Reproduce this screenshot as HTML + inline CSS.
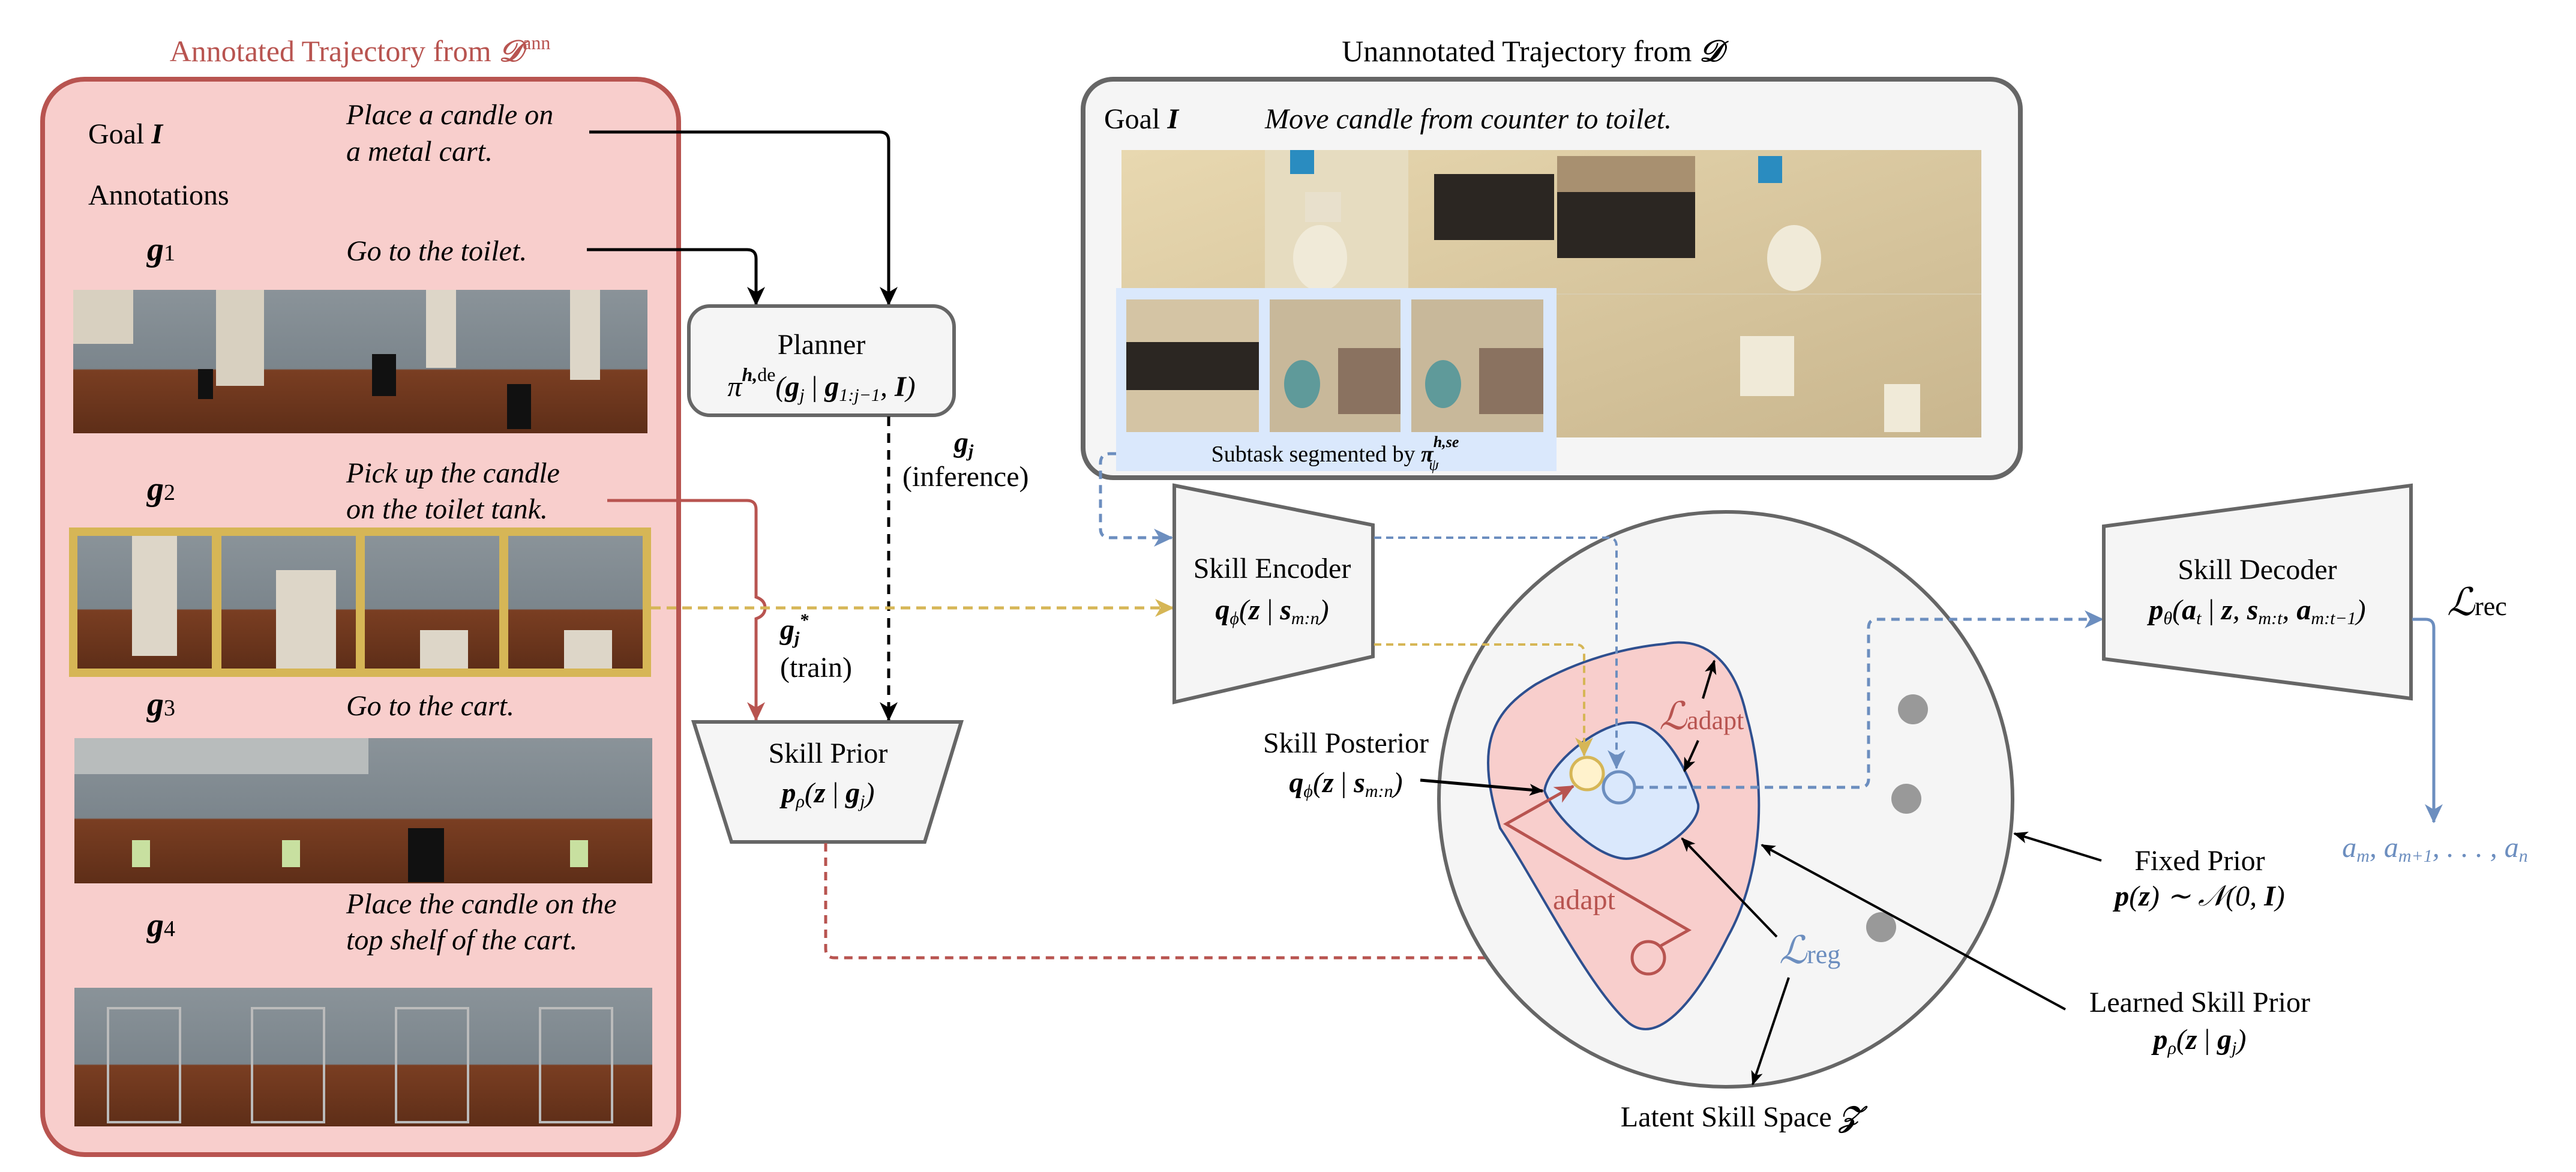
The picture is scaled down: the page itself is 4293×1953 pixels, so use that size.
<!DOCTYPE html>
<html><head><meta charset="utf-8"><style>
html,body{margin:0;padding:0;background:#fff}
svg{display:block;font-family:"Liberation Serif",serif}
svg text, svg tspan{font-family:"Liberation Serif",serif}
text{font-size:48px;fill:#000}
.i{font-style:italic}
.b{font-weight:bold;font-style:italic}
</style></head><body>
<svg width="4293" height="1953" viewBox="0 0 4293 1953" xmlns="http://www.w3.org/2000/svg" font-family="Liberation Serif, serif">
<defs>
<marker id="akb" markerWidth="34" markerHeight="34" refX="30" refY="17" orient="auto" markerUnits="userSpaceOnUse"><path d="M0,2 L32,17 L0,32 L9,17 z" fill="#000"/></marker>
<marker id="ar" markerWidth="34" markerHeight="34" refX="30" refY="17" orient="auto" markerUnits="userSpaceOnUse"><path d="M0,2 L32,17 L0,32 L9,17 z" fill="#b85450"/></marker>
<marker id="ay" markerWidth="34" markerHeight="34" refX="30" refY="17" orient="auto" markerUnits="userSpaceOnUse"><path d="M0,2 L32,17 L0,32 L9,17 z" fill="#d6b656"/></marker>
<marker id="ab" markerWidth="34" markerHeight="34" refX="30" refY="17" orient="auto" markerUnits="userSpaceOnUse"><path d="M0,2 L32,17 L0,32 L9,17 z" fill="#6c8ebf"/></marker>
<marker id="as" markerWidth="24" markerHeight="24" refX="22" refY="12" orient="auto" markerUnits="userSpaceOnUse"><path d="M0,2 L24,12 L0,22 L6,12 z" fill="#000"/></marker>
<linearGradient id="tile" x1="0" y1="0" x2="0" y2="1"><stop offset="0" stop-color="#8a9399"/><stop offset="0.55" stop-color="#7b858c"/><stop offset="0.56" stop-color="#7a3e22"/><stop offset="1" stop-color="#5e2e18"/></linearGradient>
<linearGradient id="beige" x1="0" y1="0" x2="1" y2="1"><stop offset="0" stop-color="#e8d8b0"/><stop offset="1" stop-color="#c9b68e"/></linearGradient>
</defs>

<!-- Left panel -->
<text x="600" y="102" text-anchor="middle" style="fill:#b85450;font-size:50px">Annotated Trajectory from <tspan class="b">𝒟</tspan><tspan font-size="32" dy="-20">ann</tspan></text>
<rect x="71" y="132" width="1060" height="1792" rx="70" fill="#f8cecc" stroke="#b85450" stroke-width="8"/>
<text x="147" y="239">Goal <tspan class="b">I</tspan></text>
<text x="577" y="207" class="i">Place a candle on</text>
<text x="577" y="268" class="i">a metal cart.</text>
<text x="147" y="341">Annotations</text>
<text x="245" y="434" class="b" style="font-size:56px">g<tspan font-size="38" font-weight="normal" font-style="normal">1</tspan></text>
<text x="577" y="434" class="i">Go to the toilet.</text>
<rect x="122" y="483" width="957" height="239" fill="url(#tile)"/>
<rect x="122" y="483" width="100" height="90" fill="#d8d0c0"/><rect x="360" y="483" width="80" height="160" fill="#d8d0c0"/>
<rect x="710" y="483" width="50" height="130" fill="#ddd6c8"/><rect x="950" y="483" width="50" height="150" fill="#ddd6c8"/>
<rect x="620" y="590" width="40" height="70" fill="#111"/><rect x="845" y="640" width="40" height="75" fill="#111"/><rect x="330" y="615" width="25" height="50" fill="#111"/>

<text x="245" y="833" class="b" style="font-size:56px">g<tspan font-size="38" font-weight="normal" font-style="normal">2</tspan></text>
<text x="577" y="804" class="i">Pick up the candle</text>
<text x="577" y="864" class="i">on the toilet tank.</text>
<rect x="115" y="879" width="970" height="249" fill="#d6b656"/>
<rect x="129" y="893" width="224" height="221" fill="url(#tile)"/><rect x="369" y="893" width="224" height="221" fill="url(#tile)"/><rect x="608" y="893" width="224" height="221" fill="url(#tile)"/><rect x="847" y="893" width="224" height="221" fill="url(#tile)"/>
<rect x="220" y="893" width="75" height="200" fill="#ddd6c8"/><rect x="460" y="950" width="100" height="164" fill="#ddd6c8"/><rect x="700" y="1050" width="80" height="64" fill="#ddd6c8"/><rect x="940" y="1050" width="80" height="64" fill="#ddd6c8"/>

<text x="245" y="1192" class="b" style="font-size:56px">g<tspan font-size="38" font-weight="normal" font-style="normal">3</tspan></text>
<text x="577" y="1192" class="i">Go to the cart.</text>
<rect x="124" y="1230" width="963" height="242" fill="url(#tile)"/>
<rect x="124" y="1230" width="490" height="60" fill="#b8bcbc"/><rect x="680" y="1380" width="60" height="90" fill="#111"/>
<rect x="220" y="1400" width="30" height="45" fill="#c8e0a0"/><rect x="470" y="1400" width="30" height="45" fill="#c8e0a0"/><rect x="950" y="1400" width="30" height="45" fill="#c8e0a0"/>

<text x="245" y="1560" class="b" style="font-size:56px">g<tspan font-size="38" font-weight="normal" font-style="normal">4</tspan></text>
<text x="577" y="1522" class="i">Place the candle on the</text>
<text x="577" y="1582" class="i">top shelf of the cart.</text>
<rect x="124" y="1646" width="963" height="231" fill="url(#tile)"/>
<g stroke="#bbb" stroke-width="4" fill="none"><rect x="180" y="1680" width="120" height="190"/><rect x="420" y="1680" width="120" height="190"/><rect x="660" y="1680" width="120" height="190"/><rect x="900" y="1680" width="120" height="190"/></g>

<path d="M982,220 H1466 Q1481,220 1481,235 V508" fill="none" stroke="#000" stroke-width="5" marker-end="url(#akb)"/>
<path d="M978,416 H1245 Q1260,416 1260,431 V508" fill="none" stroke="#000" stroke-width="5" marker-end="url(#akb)"/>

<!-- Planner -->
<rect x="1148" y="510" width="442" height="182" rx="35" fill="#f5f5f5" stroke="#666" stroke-width="6"/>
<text x="1369" y="590" text-anchor="middle">Planner</text>
<text x="1369" y="660" text-anchor="middle" class="i">π<tspan font-size="32" dy="-25" font-weight="bold">h,</tspan><tspan font-size="32" font-style="normal">de</tspan><tspan dy="25">(</tspan><tspan font-weight="bold">g</tspan><tspan font-size="30" dy="8">j</tspan><tspan dy="-8" font-style="normal"> | </tspan><tspan font-weight="bold">g</tspan><tspan font-size="30" dy="8">1:j−1</tspan><tspan dy="-8">, </tspan><tspan font-weight="bold">I</tspan>)</text>
<path d="M1481,694 V1200" fill="none" stroke="#000" stroke-width="5" stroke-dasharray="16,12" marker-end="url(#akb)"/>
<text x="1590" y="753" class="b">g<tspan font-size="30" dy="8">j</tspan></text>
<text x="1504" y="810">(inference)</text>

<path d="M1012,834 H1245 Q1260,834 1260,849 V995 Q1275,1000 1275,1013 Q1275,1026 1260,1031 V1200" fill="none" stroke="#b85450" stroke-width="5" marker-end="url(#ar)"/>
<text x="1300" y="1065" class="b">g<tspan font-size="30" dy="8">j</tspan><tspan font-size="30" dy="-30">*</tspan></text>
<text x="1300" y="1128">(train)</text>

<path d="M1085,1013 H1955" fill="none" stroke="#d6b656" stroke-width="5" stroke-dasharray="16,10" marker-end="url(#ay)"/>

<!-- Skill Prior -->
<polygon points="1156,1203 1602,1203 1541,1403 1219,1403" fill="#f5f5f5" stroke="#666" stroke-width="6"/>
<text x="1380" y="1271" text-anchor="middle">Skill Prior</text>
<text x="1380" y="1337" text-anchor="middle" class="i"><tspan font-weight="bold">p</tspan><tspan font-size="30" dy="8">ρ</tspan><tspan dy="-8">(</tspan><tspan font-weight="bold">z</tspan><tspan font-style="normal"> | </tspan><tspan font-weight="bold">g</tspan><tspan font-size="30" dy="8">j</tspan><tspan dy="-8">)</tspan></text>
<path d="M1376,1405 V1581 Q1376,1596 1391,1596 H2716" fill="none" stroke="#b85450" stroke-width="5" stroke-dasharray="14,10" marker-end="url(#ar)"/>

<!-- Right panel -->
<text x="2554" y="102" text-anchor="middle" style="font-size:50px">Unannotated Trajectory from <tspan class="b">𝒟</tspan></text>
<rect x="1805" y="132" width="1562" height="664" rx="50" fill="#f5f5f5" stroke="#666" stroke-width="8"/>
<text x="1840" y="214">Goal <tspan class="b">I</tspan></text>
<text x="2108" y="214" class="i">Move candle from counter to toilet.</text>
<rect x="1869" y="250" width="1433" height="479" fill="url(#beige)"/>
<rect x="2108" y="250" width="239" height="240" fill="#e6dcc0"/><rect x="2175" y="320" width="60" height="50" fill="#e8e0cc"/><ellipse cx="2200" cy="430" rx="45" ry="55" fill="#f0ead8"/><rect x="2150" y="250" width="40" height="40" fill="#2a8cc0"/>
<rect x="2390" y="290" width="200" height="110" fill="#2b2622"/><rect x="2595" y="320" width="230" height="110" fill="#2b2622"/><rect x="2595" y="260" width="230" height="60" fill="#a89070"/>
<rect x="2930" y="260" width="40" height="45" fill="#2a8cc0"/><ellipse cx="2990" cy="430" rx="45" ry="55" fill="#f0ead8"/>
<rect x="2900" y="560" width="90" height="100" fill="#f0ead8"/><rect x="3140" y="640" width="60" height="80" fill="#f0ead8"/>
<line x1="1869" y1="490" x2="3302" y2="490" stroke="#d8ccae" stroke-width="2"/>
<rect x="1860" y="480" width="734" height="305" fill="#dae8fc"/>
<rect x="1877" y="499" width="221" height="221" fill="#d4c4a4"/><rect x="1877" y="570" width="221" height="80" fill="#2b2622"/>
<rect x="2116" y="499" width="218" height="221" fill="#c8b89a"/><rect x="2230" y="580" width="104" height="110" fill="#8a7260"/><ellipse cx="2170" cy="640" rx="30" ry="40" fill="#5f9a9a"/>
<rect x="2352" y="499" width="220" height="221" fill="#c8b89a"/><rect x="2465" y="580" width="107" height="110" fill="#8a7260"/><ellipse cx="2405" cy="640" rx="30" ry="40" fill="#5f9a9a"/>
<text x="2225" y="769" text-anchor="middle" style="font-size:38px">Subtask segmented by <tspan class="b">π</tspan><tspan font-size="26" dy="-24" class="b">h,se</tspan><tspan font-size="26" dx="-50" dy="38" class="i">ψ</tspan></text>

<path d="M1860,756 H1850 Q1834,756 1834,772 V881 Q1834,896 1850,896 H1953" fill="none" stroke="#6c8ebf" stroke-width="5" stroke-dasharray="14,10" marker-end="url(#ab)"/>

<!-- Skill Encoder -->
<polygon points="1957,809 2288,875 2288,1094 1957,1170" fill="#f5f5f5" stroke="#666" stroke-width="6"/>
<text x="2120" y="963" text-anchor="middle">Skill Encoder</text>
<text x="2120" y="1032" text-anchor="middle" class="i"><tspan font-weight="bold">q</tspan><tspan font-size="30" dy="8">ϕ</tspan><tspan dy="-8">(</tspan><tspan font-weight="bold">z</tspan><tspan font-style="normal"> | </tspan><tspan font-weight="bold">s</tspan><tspan font-size="30" dy="8">m:n</tspan><tspan dy="-8">)</tspan></text>

<!-- Latent space -->
<ellipse cx="2876" cy="1332" rx="478" ry="479" fill="#f5f5f5" stroke="#666" stroke-width="6"/>
<path d="M2774,1073 C2840,1060 2890,1100 2910,1190 C2950,1330 2930,1470 2880,1560 C2820,1680 2760,1740 2715,1705 C2650,1650 2560,1470 2500,1380 C2460,1250 2480,1190 2560,1140 C2640,1095 2720,1078 2774,1073 Z" fill="#f8cecc" stroke="#2e4f8f" stroke-width="4"/>
<path d="M2734,1206 C2780,1220 2815,1290 2830,1340 C2835,1375 2760,1430 2710,1431 C2660,1430 2590,1360 2574,1318 C2580,1270 2680,1190 2734,1206 Z" fill="#dae8fc" stroke="#2e4f8f" stroke-width="4"/>
<circle cx="3188" cy="1182" r="25" fill="#999"/><circle cx="3177" cy="1331" r="25" fill="#999"/><circle cx="3135" cy="1545" r="25" fill="#999"/>

<path d="M2290,896 H2680 Q2694,896 2694,910 V1280" fill="none" stroke="#6c8ebf" stroke-width="4" stroke-dasharray="12,8" marker-end="url(#ab)"/>
<path d="M2290,1074 H2626 Q2640,1074 2640,1088 V1259" fill="none" stroke="#d6b656" stroke-width="4" stroke-dasharray="12,8" marker-end="url(#ay)"/>
<circle cx="2645" cy="1289" r="27" fill="#fff2cc" stroke="#d6b656" stroke-width="5"/>
<circle cx="2698" cy="1312" r="26" fill="none" stroke="#6c8ebf" stroke-width="5"/>
<circle cx="2747" cy="1596" r="27" fill="none" stroke="#b85450" stroke-width="5"/>
<path d="M2766,1577 L2814,1550 L2510,1373 L2622,1310" fill="none" stroke="#b85450" stroke-width="5" marker-end="url(#ar)"/>
<text x="2640" y="1515" text-anchor="middle" style="fill:#b85450">adapt</text>

<path d="M2725,1312 H3100 Q3114,1312 3114,1298 V1046 Q3114,1032 3128,1032 H3504" fill="none" stroke="#6c8ebf" stroke-width="5" stroke-dasharray="14,10" marker-end="url(#ab)"/>

<text x="2765" y="1215" class="i" style="fill:#b85450;font-size:64px">ℒ<tspan font-style="normal" font-size="44">adapt</tspan></text>
<path d="M2838,1164 L2857,1101" stroke="#000" stroke-width="4" marker-end="url(#as)"/>
<path d="M2830,1234 L2807,1285" stroke="#000" stroke-width="4" marker-end="url(#as)"/>
<text x="2965" y="1605" class="i" style="fill:#6c8ebf;font-size:64px">ℒ<tspan font-style="normal" font-size="44">reg</tspan></text>
<path d="M2961,1561 L2803,1397" stroke="#000" stroke-width="4" marker-end="url(#as)"/>
<path d="M2981,1629 L2921,1807" stroke="#000" stroke-width="4" marker-end="url(#as)"/>

<text x="2243" y="1254" text-anchor="middle">Skill Posterior</text>
<text x="2243" y="1320" text-anchor="middle" class="i"><tspan font-weight="bold">q</tspan><tspan font-size="30" dy="8">ϕ</tspan><tspan dy="-8">(</tspan><tspan font-weight="bold">z</tspan><tspan font-style="normal"> | </tspan><tspan font-weight="bold">s</tspan><tspan font-size="30" dy="8">m:n</tspan><tspan dy="-8">)</tspan></text>
<path d="M2367,1300 L2571,1318" stroke="#000" stroke-width="5" marker-end="url(#as)"/>

<text x="3666" y="1450" text-anchor="middle">Fixed Prior</text>
<text x="3666" y="1509" text-anchor="middle" class="i"><tspan font-weight="bold">p</tspan>(<tspan font-weight="bold">z</tspan>) ∼ 𝒩(0, <tspan font-weight="bold">I</tspan>)</text>
<path d="M3502,1434 L3357,1389" stroke="#000" stroke-width="4" marker-end="url(#as)"/>
<text x="3666" y="1686" text-anchor="middle">Learned Skill Prior</text>
<text x="3666" y="1748" text-anchor="middle" class="i"><tspan font-weight="bold">p</tspan><tspan font-size="30" dy="8">ρ</tspan><tspan dy="-8">(</tspan><tspan font-weight="bold">z</tspan><tspan font-style="normal"> | </tspan><tspan font-weight="bold">g</tspan><tspan font-size="30" dy="8">j</tspan><tspan dy="-8">)</tspan></text>
<path d="M3442,1682 L2936,1408" stroke="#000" stroke-width="4" marker-end="url(#as)"/>
<text x="2901" y="1877" text-anchor="middle">Latent Skill Space <tspan class="b">𝒵</tspan></text>

<!-- Decoder -->
<polygon points="3506,877 4018,809 4018,1164 3506,1098" fill="#f5f5f5" stroke="#666" stroke-width="6"/>
<text x="3762" y="965" text-anchor="middle">Skill Decoder</text>
<text x="3762" y="1032" text-anchor="middle" class="i"><tspan font-weight="bold">p</tspan><tspan font-size="30" dy="8">θ</tspan><tspan dy="-8">(</tspan><tspan font-weight="bold">a</tspan><tspan font-size="30" dy="8">t</tspan><tspan dy="-8" font-style="normal"> | </tspan><tspan font-weight="bold">z</tspan>, <tspan font-weight="bold">s</tspan><tspan font-size="30" dy="8">m:t</tspan><tspan dy="-8">, </tspan><tspan font-weight="bold">a</tspan><tspan font-size="30" dy="8">m:t−1</tspan><tspan dy="-8">)</tspan></text>
<text x="4078" y="1025" class="i" style="font-size:64px">ℒ<tspan font-style="normal" font-size="44">rec</tspan></text>
<path d="M4020,1032 H4042 Q4056,1032 4056,1046 V1370" fill="none" stroke="#6c8ebf" stroke-width="5" marker-end="url(#ab)"/>
<text x="4058" y="1428" text-anchor="middle" class="i" style="fill:#6c8ebf"><tspan>a</tspan><tspan font-size="30" dy="8">m</tspan><tspan dy="-8">, a</tspan><tspan font-size="30" dy="8">m+1</tspan><tspan dy="-8">, . . . , a</tspan><tspan font-size="30" dy="8">n</tspan></text>
</svg>
</body></html>
